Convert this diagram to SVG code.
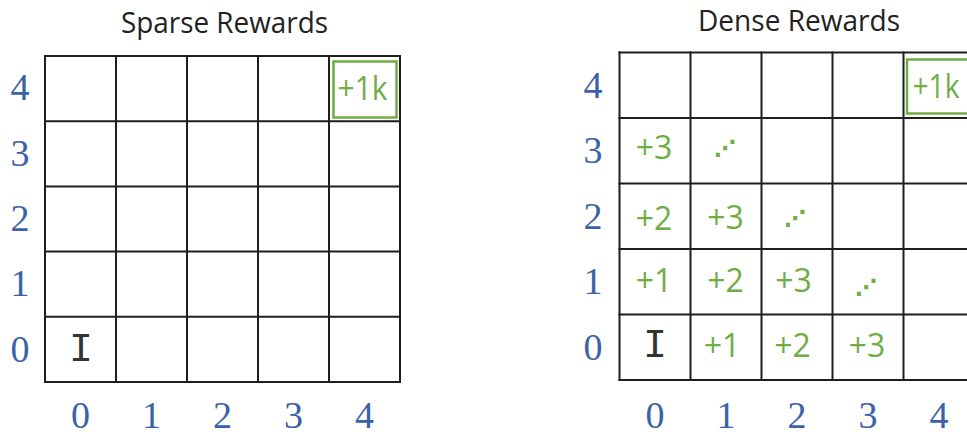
<svg xmlns="http://www.w3.org/2000/svg" width="967" height="437" viewBox="0 0 967 437">
<style>
.bg{fill:#ffffff}
.grid line{stroke:#1e1e1e;stroke-width:2;stroke-linecap:square}
.title{font-family:"Open Sans","Liberation Sans",sans-serif;font-size:29px;fill:#222222;text-anchor:middle}
.ax{font-family:"Liberation Serif","DejaVu Serif",serif;font-size:38px;fill:#3a62a8;text-anchor:middle}
.rw{font-family:"Open Sans","Liberation Sans",sans-serif;font-size:32px;fill:#70ad47;text-anchor:middle}
.big{font-size:33px}
.dots{font-family:"DejaVu Sans",sans-serif;font-size:22px;font-weight:bold;fill:#70ad47;text-anchor:middle}
.start{font-family:"Liberation Mono","DejaVu Sans Mono",monospace;font-size:40px;fill:#333333;text-anchor:middle}
.goal{fill:none;stroke:#70ad47;stroke-width:2.5}
</style>
<rect class="bg" x="0" y="0" width="967" height="437"/>

<g id="sparse">
  <text class="title" x="224.5" y="33" textLength="207" lengthAdjust="spacingAndGlyphs">Sparse Rewards</text>
  <g id="sparse-grid" class="grid">
    <line x1="45" y1="56" x2="400" y2="56"/>
    <line x1="45" y1="121.2" x2="400" y2="121.2"/>
    <line x1="45" y1="186.4" x2="400" y2="186.4"/>
    <line x1="45" y1="251.6" x2="400" y2="251.6"/>
    <line x1="45" y1="316.8" x2="400" y2="316.8"/>
    <line x1="45" y1="382" x2="400" y2="382"/>
    <line x1="45" y1="56" x2="45" y2="382"/>
    <line x1="116" y1="56" x2="116" y2="382"/>
    <line x1="187" y1="56" x2="187" y2="382"/>
    <line x1="258" y1="56" x2="258" y2="382"/>
    <line x1="329" y1="56" x2="329" y2="382"/>
    <line x1="400" y1="56" x2="400" y2="382"/>
  </g>
  <g id="sparse-goal">
    <rect class="goal" x="333.5" y="61.5" width="63" height="56"/>
    <text class="rw big" x="362.5" y="100" textLength="50" lengthAdjust="spacingAndGlyphs">+1k</text>
  </g>
  <g id="sparse-start">
    <text class="start" x="81" y="361">I</text>
  </g>
  <g id="sparse-yaxis">
    <text class="ax" x="20" y="100">4</text>
    <text class="ax" x="20" y="166">3</text>
    <text class="ax" x="20" y="231">2</text>
    <text class="ax" x="20" y="296">1</text>
    <text class="ax" x="20" y="362">0</text>
  </g>
  <g id="sparse-xaxis">
    <text class="ax" x="80.5" y="428">0</text>
    <text class="ax" x="151.5" y="428">1</text>
    <text class="ax" x="222.5" y="428">2</text>
    <text class="ax" x="293.5" y="428">3</text>
    <text class="ax" x="364.5" y="428">4</text>
  </g>
</g>

<g id="dense">
  <text class="title" x="799" y="31" textLength="202" lengthAdjust="spacingAndGlyphs">Dense Rewards</text>
  <g id="dense-grid" class="grid">
    <line x1="619.5" y1="52.5" x2="975" y2="52.5"/>
    <line x1="619.5" y1="118" x2="975" y2="118"/>
    <line x1="619.5" y1="183.5" x2="975" y2="183.5"/>
    <line x1="619.5" y1="249" x2="975" y2="249"/>
    <line x1="619.5" y1="314.5" x2="975" y2="314.5"/>
    <line x1="619.5" y1="380" x2="975" y2="380"/>
    <line x1="619.5" y1="52.5" x2="619.5" y2="380"/>
    <line x1="690.5" y1="52.5" x2="690.5" y2="380"/>
    <line x1="761.5" y1="52.5" x2="761.5" y2="380"/>
    <line x1="832.5" y1="52.5" x2="832.5" y2="380"/>
    <line x1="903.5" y1="52.5" x2="903.5" y2="380"/>
  </g>
  <g id="dense-goal">
    <rect class="goal" x="907" y="59.5" width="63" height="54"/>
    <text class="rw" x="936" y="98" textLength="47" lengthAdjust="spacingAndGlyphs">+1k</text>
  </g>
  <g id="dense-start">
    <text class="start" x="655" y="357">I</text>
  </g>
  <g id="dense-rewards">
    <text class="rw" x="654" y="158.5">+3</text>
    <text class="dots" x="725" y="156">⋰</text>
    <text class="rw" x="654" y="230">+2</text>
    <text class="rw" x="725.5" y="229">+3</text>
    <text class="dots" x="795" y="226">⋰</text>
    <text class="rw" x="654" y="291.5">+1</text>
    <text class="rw" x="725.5" y="291.5">+2</text>
    <text class="rw" x="793.5" y="291.5">+3</text>
    <text class="dots" x="866" y="295">⋰</text>
    <text class="rw" x="722" y="356.5">+1</text>
    <text class="rw" x="792.5" y="356.5">+2</text>
    <text class="rw" x="867" y="356.5">+3</text>
  </g>
  <g id="dense-yaxis">
    <text class="ax" x="593" y="98">4</text>
    <text class="ax" x="593" y="163">3</text>
    <text class="ax" x="593" y="229">2</text>
    <text class="ax" x="593" y="294">1</text>
    <text class="ax" x="593" y="360">0</text>
  </g>
  <g id="dense-xaxis">
    <text class="ax" x="655" y="428">0</text>
    <text class="ax" x="726" y="428">1</text>
    <text class="ax" x="797" y="428">2</text>
    <text class="ax" x="868" y="428">3</text>
    <text class="ax" x="939" y="428">4</text>
  </g>
</g>
</svg>
